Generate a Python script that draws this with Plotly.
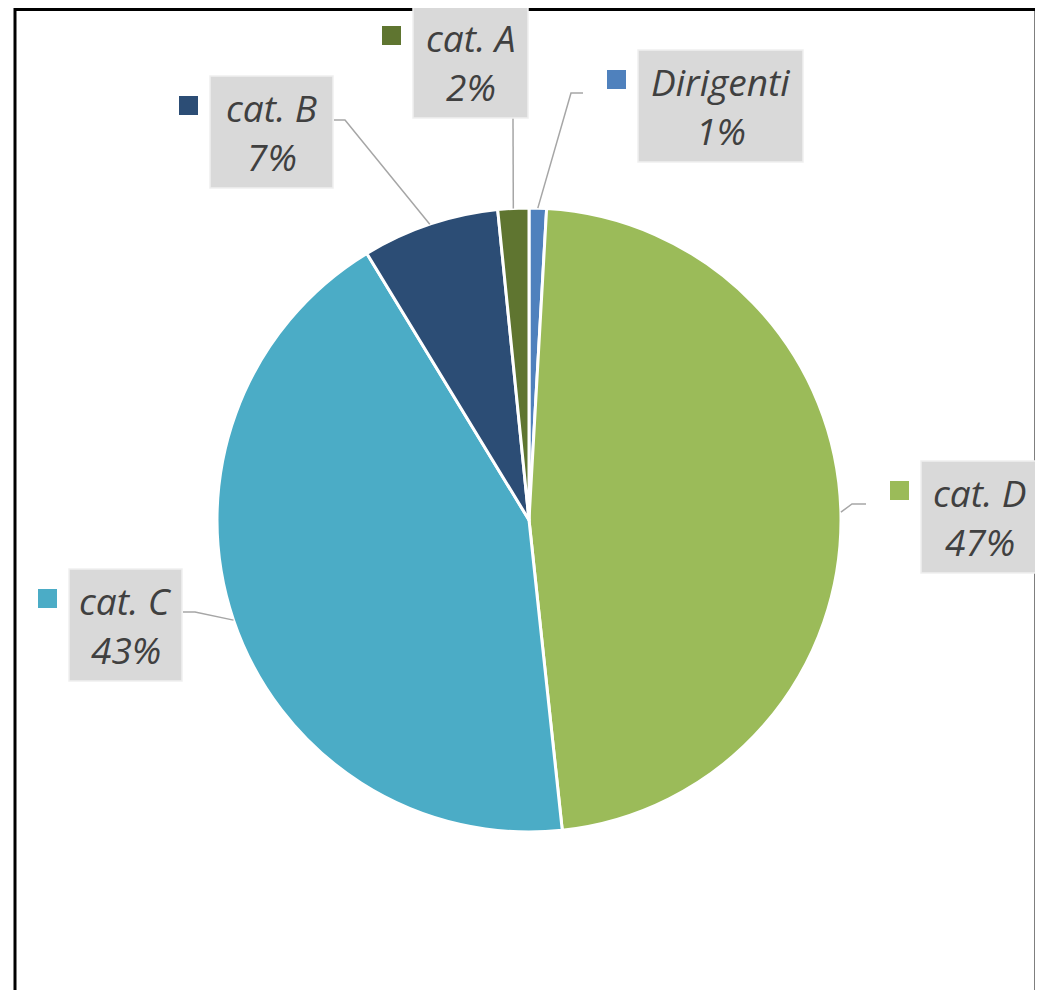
import math
import plotly.graph_objects as go

# ---- data ----
categories = ["Dirigenti", "cat. D", "cat. C", "cat. B", "cat. A"]
values = [0.9, 47.4, 43.0, 7.1, 1.6]
colors = ["#4F81BD", "#9BBB59", "#4BACC6", "#2C4D75", "#5F7530"]

# ---- layout (pixels in a 1043x990 canvas) ----
W, H = 1043, 990
OFF = 8  # page body margin
CX, CY, R = 529, 520, 312
# label boxes: left, top, width, height ; leader elbow points (from slice to box)
boxes = {
    "Dirigenti": (638, 50, 165, 112),
    "cat. D": (921, 461, 118, 112),
    "cat. C": (69, 569, 113, 112),
    "cat. B": (210, 76, 123, 112),
    "cat. A": (413, 6, 115, 112),
}
elbows = {
    "Dirigenti": [(571, 93), (583, 93)],
    "cat. D": [(852, 504), (866, 504)],
    "cat. C": [(195, 612), (183, 612)],
    "cat. B": [(345, 120), (334, 120)],
    "cat. A": [(513, 118)],
}

def px(x):
    return (x - OFF) / W

def py(y):
    return 1 - (y - OFF) / H

fig = go.Figure(go.Pie(
    labels=categories,
    values=values,
    sort=False,
    direction="clockwise",
    rotation=0,
    marker=dict(colors=colors, line=dict(color="white", width=3)),
    textinfo="none",
    hoverinfo="label+percent",
    showlegend=False,
    domain=dict(x=[px(CX - R), px(CX + R)], y=[py(CY + R), py(CY - R)]),
))

shapes = []
annotations = []

# outer border
shapes.append(dict(type="rect", xref="paper", yref="paper",
                   x0=px(15), x1=px(1036), y0=py(1100), y1=py(9.5),
                   line=dict(color="black", width=3), fillcolor="rgba(0,0,0,0)"))

total = sum(values)
cum = 0.0
for cat, val, col in zip(categories, values, colors):
    mid = (cum + val / 2) / total * 2 * math.pi
    cum += val
    ax = CX + R * math.sin(mid)
    ay = CY - R * math.cos(mid)
    pts = [(ax, ay)] + elbows[cat]
    path = "M " + " L ".join(f"{px(x):.5f},{py(y):.5f}" for x, y in pts)
    shapes.append(dict(type="path", xref="paper", yref="paper", path=path,
                       line=dict(color="#A6A6A6", width=1.5)))
    bl, bt, bw, bh = boxes[cat]
    shapes.append(dict(type="rect", xref="paper", yref="paper",
                       x0=px(bl), x1=px(bl + bw), y0=py(bt + bh), y1=py(bt),
                       fillcolor="#D9D9D9", line=dict(color="#EFEFEF", width=1.5)))
    shapes.append(dict(type="rect", xref="paper", yref="paper",
                       x0=px(bl - 31), x1=px(bl - 12), y0=py(bt + 39), y1=py(bt + 20),
                       fillcolor=col, line=dict(width=0)))
    pct = f"{round(val / total * 100):d}%"
    for txt, fy in ((cat, 0.28), (pct, 0.72)):
        annotations.append(dict(xref="paper", yref="paper",
                                x=px(bl + bw / 2), y=py(bt + bh * fy),
                                xanchor="center", yanchor="middle",
                                text=f"<i>{txt}</i>", showarrow=False,
                                font=dict(family="Open Sans", size=37, color="#404040")))

fig.update_layout(
    width=W, height=H,
    margin=dict(l=0, r=0, t=0, b=0),
    paper_bgcolor="white",
    shapes=shapes,
    annotations=annotations,
)

fig.write_html("out.html")
